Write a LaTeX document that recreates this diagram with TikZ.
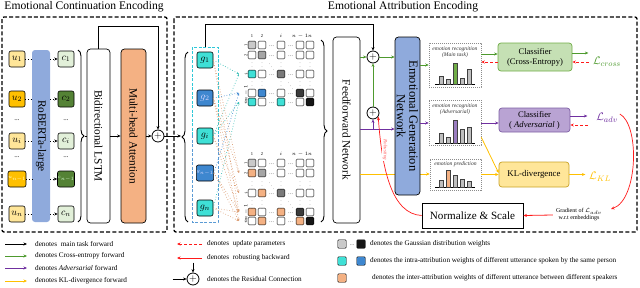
\documentclass[tikz,border=0pt]{standalone}
\usepackage{fontspec}
\setmainfont{Liberation Serif}
\usetikzlibrary{arrows.meta,decorations.pathreplacing,calc}
\definecolor{uL}{HTML}{FFE699}
\definecolor{uD}{HTML}{FFC000}
\definecolor{cL}{HTML}{E2F0D9}
\definecolor{cD}{HTML}{548235}
\definecolor{robB}{HTML}{8FAADC}
\definecolor{mhaO}{HTML}{F4B183}
\definecolor{gC}{HTML}{3FE0D6}
\definecolor{gB}{HTML}{3E87CF}
\definecolor{dC}{HTML}{2FC8D8}
\definecolor{dB}{HTML}{5B9BD5}
\definecolor{grn}{HTML}{4E9A2E}
\definecolor{pur}{HTML}{7030A0}
\definecolor{yel}{HTML}{FFC000}
\definecolor{ceF}{HTML}{C5E0B4}
\definecolor{ceD}{HTML}{70AD47}
\definecolor{advF}{HTML}{B9A3D3}
\definecolor{advD}{HTML}{7E5FA5}
\definecolor{klF}{HTML}{FFE699}
\definecolor{klD}{HTML}{C9A227}
\definecolor{wA}{HTML}{C9C9C9}
\definecolor{wB}{HTML}{A5A5A5}
\definecolor{wC}{HTML}{7A7A7A}
\definecolor{wD}{HTML}{3B3B3B}
\definecolor{wE}{HTML}{161616}
\definecolor{barG}{HTML}{BFBFBF}
\definecolor{advBar}{HTML}{9A7DC0}
\definecolor{redA}{HTML}{FF1A1A}

\newcommand{\matrow}[7]{%
  \node[cell,fill=#3] (#1-1) at (252,#2) {};
  \node[cell,fill=#4] (#1-2) at (262,#2) {};
  \node[cell,fill=#5] (#1-3) at (281,#2) {};
  \node[cell,fill=#6] (#1-4) at (300,#2) {};
  \node[cell,fill=#7] (#1-5) at (310,#2) {};
  \node[hdots] (#1-d1) at (271.5,#2) {\ldots};
  \node[hdots] (#1-d2) at (290.5,#2) {\ldots};
}
\newcommand{\matlab}[7]{%
  \node[lab] (#1-h1) at (252,#2) {1};
  \node[lab] (#1-h2) at (262,#2) {2};
  \node[lab] (#1-h3) at (281,#2) {$i$};
  \node[lab] (#1-h4) at (300,#2) {$n-1$};
  \node[lab] (#1-h5) at (310,#2) {$n$};
  \node[lab,rotate=90] (#1-v1) at (246,#3) {1};
  \node[lab,rotate=90] (#1-v2) at (246,#4) {2};
  \node[lab,rotate=90] (#1-v3) at (246,#5) {$i$};
  \node[lab,rotate=90] (#1-v4) at (246,#6) {$n-1$};
  \node[lab,rotate=90] (#1-v5) at (246,#7) {$n$};
}
\newcommand{\matvdots}[3]{%
  \foreach \mx in {252,262,281,300,310}{
    \node[vd] at (\mx,#2) {$\vdots$};
    \node[vd] at (\mx,#3) {$\vdots$};
  }
  \node[vd] (#1-dd1) at (271.5,#2) {$\ddots$};
  \node[vd] (#1-dd2) at (290.5,#3) {$\ddots$};
}

\begin{document}
\begin{tikzpicture}[x=1pt,y=-1pt,
  >={Stealth[length=3.5pt,width=3pt]},
  ln/.style={line width=0.8pt},
  ubox/.style={draw,line width=0.6pt,rounded corners=2pt,minimum width=16pt,minimum height=16pt,inner sep=0pt,font=\fontsize{10}{10}\selectfont},
  vbox/.style={draw,line width=0.7pt,rounded corners=3.5pt,inner sep=0pt},
  cell/.style={draw,line width=0.45pt,rounded corners=1pt,minimum size=7.6pt,inner sep=0pt},
  hdots/.style={font=\fontsize{5}{5}\selectfont,inner sep=0pt,yshift=-1.5pt},
  vd/.style={font=\fontsize{4}{4}\selectfont,inner sep=0pt},
  lab/.style={font=\fontsize{4.5}{4.5}\selectfont,inner sep=0pt},
  plusc/.style={draw,fill=white,circle,line width=0.8pt,minimum size=12pt,inner sep=0pt,font=\fontsize{10}{10}\selectfont},
  dbox/.style={line width=1.3pt,dash pattern=on 4pt off 2.2pt,rounded corners=2pt},
  gline/.style={dotted,line width=0.7pt,-{Stealth[length=2.5pt,width=2pt]}},
  ebox/.style={draw=black!45,line width=0.5pt,dash pattern=on 1.2pt off 0.8pt,inner sep=0pt},
  etext/.style={font=\fontsize{5.6}{6.4}\selectfont\itshape,inner sep=0pt,align=center,text=black!80},
  bar/.style={draw=black!75,line width=0.4pt,fill=barG},
  cls/.style={draw,line width=0.7pt,rounded corners=3pt,align=center,inner sep=0pt,font=\fontsize{8.6}{10}\selectfont},
  leg/.style={anchor=west,inner sep=0pt,font=\fontsize{7.2}{8}\selectfont},
  vlab/.style={rotate=-90,font=\fontsize{11.3}{12}\selectfont},
  rdash/.style={redA,line width=0.8pt,dash pattern=on 3pt off 2pt,->},
  brc/.style={decorate,decoration={brace,amplitude=6pt},line width=0.9pt},
  lossl/.style={font=\fontsize{11}{11}\selectfont,inner sep=0pt},
]
\useasboundingbox (0,0) rectangle (640,287);

% titles and frames
\node[font=\fontsize{11.6}{12}\selectfont,inner sep=0pt] (t1) at (84,6.5) {Emotional Continuation Encoding};
\node[font=\fontsize{11.6}{12}\selectfont,inner sep=0pt] (t2) at (403,6.5) {Emotional Attribution Encoding};
\draw[dbox] (2,17) rectangle (167,232);
\draw[dbox] (174,17) rectangle (637,232);

% ---------- left part ----------
\node[fill=robB,rounded corners=3pt,minimum width=18pt,minimum height=172pt,inner sep=0pt,
  label={[vlab]center:RoBERTa-large}] (rob) at (41,136) {};
\node[ubox,fill=uL] (u1) at (17,59) {$u_1$};
\node[ubox,fill=uD] (u2) at (17,99) {$u_2$};
\node[ubox,fill=uL] (ui) at (17,141) {$u_i$};
\node[ubox,fill=uD,font=\fontsize{5.5}{6}\selectfont,text=white!85!yellow] (um) at (17,179) {$u_{n-1}$};
\node[ubox,fill=uL] (un) at (17,214) {$u_n$};
\node[font=\fontsize{7}{7}\selectfont] (ud1) at (17,120) {...};
\node[font=\fontsize{7}{7}\selectfont] (ud2) at (17,157) {...};
\node[ubox,fill=cL] (c1) at (66,59) {$c_1$};
\node[ubox,fill=cD] (c2) at (66,99) {$c_2$};
\node[ubox,fill=cL] (ci) at (66,141) {$c_i$};
\node[ubox,fill=cD,font=\fontsize{5.5}{6}\selectfont,text=white!85!green] (cm) at (66,179) {$c_{n-1}$};
\node[ubox,fill=cL] (cn) at (66,214) {$c_n$};
\node[font=\fontsize{7}{7}\selectfont] (cd1) at (66,120) {...};
\node[font=\fontsize{7}{7}\selectfont] (cd2) at (66,157) {...};
\foreach \a in {1,2,i,m,n}{
  \draw[dotted,line width=0.7pt] (u\a.east) -- (rob.west |- u\a);
  \draw[dotted,line width=0.7pt,->] (rob.east |- c\a) -- (c\a.west);
}
\draw[brc] (78,50) -- (78,222);
\node[vbox,minimum width=23pt,minimum height=174pt,label={[vlab]center:Bidirectional LSTM}] (lstm) at (98.5,136) {};
\node[vbox,fill=mhaO,minimum width=25pt,minimum height=174pt,label={[vlab]center:Multi-head Attention}] (mha) at (133.5,136) {};
\node[plusc] (pl0) at (158,136) {$+$};
\coordinate (b1) at (85,136);
\draw[ln] (b1) -- (lstm.west);
\draw[ln,->] (lstm.east) -- (mha.west);
\draw[ln,->] (mha.east) -- (pl0.west);
\draw[ln,->] (lstm.north) -- ++(0,-22) -| (pl0.north);
\coordinate (b2) at (181,136);
\draw[ln,->] (pl0.east) -- (b2);

% ---------- attribution part ----------
\draw[brc] (188,222) -- (188,52);
\node[minimum width=26pt,minimum height=175pt,inner sep=0pt] (grect) at (205,134.5) {};
\draw[dC,line width=1pt,dash pattern=on 3pt off 1.5pt] (192,135) -- (192,47) -- (218,47) -- (218,135);
\draw[dB,line width=1pt,dash pattern=on 3pt off 1.5pt] (192,135) -- (192,222) -- (218,222) -- (218,135);
\node[ubox,fill=gC] (g1) at (205,60) {$g_1$};
\node[ubox,fill=gB,text=white!85!blue] (g2) at (205,98) {$g_2$};
\node[ubox,fill=gC] (gi) at (205,136) {$g_i$};
\node[ubox,fill=gB,font=\fontsize{5.5}{6}\selectfont,text=white!85!blue] (gm) at (205,173) {$g_{n-1}$};
\node[ubox,fill=gC] (gn) at (205,208) {$g_n$};

% matrices
\matlab{T}{36}{45}{55}{74}{93}{102}
\matrow{T1}{45}{wA}{white}{white}{white}{white}
\matrow{T2}{55}{white}{wB}{white}{white}{white}
\matrow{Ti}{74}{gC}{white}{wC}{white}{white}
\matrow{Tm}{93}{white}{gB}{white}{wD}{white}
\matrow{Tn}{102}{gC}{white}{gC}{white}{wE}
\matvdots{T}{64.5}{83.5}
\matlab{B}{154}{163}{173}{193}{212}{221}
\matrow{B1}{163}{wA}{white}{white}{white}{white}
\matrow{B2}{173}{mhaO}{wB}{white}{white}{white}
\matrow{Bi}{193}{white}{mhaO}{wC}{white}{white}
\matrow{Bm}{212}{mhaO}{white}{mhaO}{wD}{white}
\matrow{Bn}{221}{white}{mhaO}{white}{mhaO}{wE}
\matvdots{B}{183}{202.5}

% attribution links
\foreach \s/\t in {g1/Ti,gi/Ti,gi/Tn,gn/Tn}
  \draw[gline,gC!85!black] (\s.east) -- ($(\t-1.west)+(-9,0)$);
\foreach \s/\t in {g2/Tm,gm/Tm}
  \draw[gline,gB] (\s.east) -- ($(\t-1.west)+(-9,0)$);
\foreach \s/\t in {g1/B2,g2/B2,g2/Bi,g1/Bm,gi/Bm,gi/Bi,g2/Bn,gm/Bn,gm/Bm,gn/Bn,gn/Bm}
  \draw[gline,mhaO!90!black] (\s.east) -- ($(\t-1.west)+(-9,0)$);

\draw[brc] (321,40) -- (321,222);
\node[vbox,minimum width=27pt,minimum height=186pt,label={[vlab]center:Feedforward Network}] (ffn) at (346.5,130) {};

\node[plusc] (pl1) at (373,57) {$+$};
\node[plusc] (pl2) at (373,113) {$+$};
\coordinate (py) at (0,129);
\coordinate (yy) at (0,174);
\draw[ln,->] (grect.north) -- ++(0,-22) -| (pl1.north);

% yellow line behind the generation network
\node[ebox,minimum width=51pt,minimum height=31pt] (pbox) at (455.5,174.5) {};
\draw[ln,yel,->] (ffn.east |- yy) -- (pbox.west |- yy);
\node[vbox,fill=robB,minimum width=25pt,minimum height=158pt,
  label={[rotate=-90,align=center,font=\fontsize{12.5}{12.5}\selectfont]center:Emotional Generation\\Network}] (egn) at (407.5,116) {};

\draw[ln,grn,->] (ffn.east |- pl1) -- (pl1.west);
\draw[ln,grn,->] (pl1.east) -- (egn.west |- pl1);
\draw[ln,grn,->] (pl2.north) -- (pl1.south);
\draw[ln,pur,->] (ffn.east |- py) -- (egn.west |- py);
\draw[ln,pur,->] (pl2 |- py) -- (pl2.south);

% emotion boxes
\node[ebox,minimum width=52pt,minimum height=44pt] (mbox) at (455,65) {};
\node[etext] (mt) at (455,52) {emotion recognition\\(Main task)};
\node[ebox,minimum width=52pt,minimum height=45pt] (abox) at (455,122.5) {};
\node[etext] (at) at (455,109.5) {emotion recognition\\(Adversarial)};
\node[etext] (pt) at (455.5,164) {emotion prediction};
\draw[line width=0.6pt] (435,84) -- (475,84);
\foreach \bx/\bt/\bc in {441/76/barG,448/79/barG,455/63/ceD,462/78/barG,469/69/barG}
  \draw[bar,fill=\bc] (\bx-2.2,84) rectangle (\bx+2.2,\bt);
\draw[line width=0.6pt] (435,143) -- (475,143);
\foreach \bx/\bt/\bc in {441/133/barG,448/137/barG,455/120/advBar,462/129/barG,469/127/barG}
  \draw[bar,fill=\bc] (\bx-2.2,143) rectangle (\bx+2.2,\bt);
\draw[line width=0.6pt] (435,187) -- (475,187);
\foreach \bx/\bt/\bc in {441/180/barG,448/170/mhaO,455/175/barG,462/179/barG,469/181/barG}
  \draw[bar,fill=\bc] (\bx-2.2,187) rectangle (\bx+2.2,\bt);

\draw[ln,grn,->] (egn.east |- mbox.west) -- (mbox.west);
\draw[ln,pur,->] (egn.east |- 0,123) -- (abox.west |- 0,123);

% classifiers
\node[cls,fill=ceF,draw=ceD,minimum width=74pt,minimum height=28pt] (ce) at (535,57) {Classifier\\(Cross-Entropy)};
\node[cls,fill=advF,draw=advD,minimum width=71pt,minimum height=24pt] (adv) at (534.5,120) {Classifier\\( \textit{Adversarial} )};
\node[cls,fill=klF,draw=klD,minimum width=70pt,minimum height=25pt,font=\fontsize{8.8}{10}\selectfont] (kl) at (534,174.5) {KL-divergence};
\node[draw,line width=0.8pt,minimum width=101pt,minimum height=25pt,inner sep=0pt,font=\fontsize{11.1}{12}\selectfont] (norm) at (472.5,215.5) {Normalize \& Scale};

\node[lossl,text=grn] (lce) at (607,62) {$\mathcal{L}_{cross}$};
\node[lossl,text=pur] (ladv) at (607,118) {$\mathcal{L}_{adv}$};
\node[lossl,text=yel] (lkl) at (600,177) {$\mathcal{L}_{KL}$};

\draw[ln,grn,->] (mbox.east |- 0,54) -- (ce.west |- 0,54);
\draw[rdash] (ce.west |- 0,62) -- (mbox.east |- 0,62);
\draw[ln,grn,->] (ce.east |- 0,53) -- ++(16,0);
\draw[rdash] ($(lce.west)+(-4,0)$) -- (ce.east |- lce);
\draw[ln,pur,->] (abox.east |- 0,123) -- (adv.west |- 0,123);
\draw[ln,pur,->] (adv.east |- 0,116) -- ++(17,0);
\draw[rdash] (588,125) -- (adv.east |- 0,125);
\draw[ln,yel,->] ($(abox.south east)+(0,-8)$) -- ($(kl.west)+(0,-1.5)$);
\draw[ln,yel,->] (pbox.east |- kl.west) -- (kl.west);
\draw[ln,yel,->] (kl.east) -- ++(16,0);

\node[font=\fontsize{6}{7}\selectfont,align=center,inner sep=0pt] (grad) at (579,215) {Gradient of $\mathcal{L}_{adv}$\\w.r.t embeddings};
\coordinate (gtip) at (611,209);
\draw[redA,line width=0.7pt,->] ($(ladv.east)+(2,-4)$) .. controls (640,125) and (638,200) .. (gtip);
\draw[redA,line width=0.8pt,->] ($(grad.west)+(-3,0)$) -- (norm.east);
\draw[redA,line width=0.7pt,->] (norm.west) .. controls (392,214) and (382,170) .. (pl2.-35);
\node[rotate=-90,text=redA!70,fill=white,inner sep=0.5pt,font=\fontsize{5}{5}\selectfont\itshape] (robl) at (385,150) {Robusting};

% ---------- legend ----------
\node[leg] (lg1) at (35,244) {denotes \ main task forward};
\node[leg] (lg2) at (35,256) {denotes Cross-entropy forward};
\node[leg] (lg3) at (35,268) {denotes \textit{Adversarial} forward};
\node[leg] (lg4) at (35,281) {denotes KL-divergence forward};
\draw[ln,->] ($(lg1.west)+(-30,0)$) -- ($(lg1.west)+(-8,0)$);
\draw[ln,grn,->] ($(lg2.west)+(-30,0)$) -- ($(lg2.west)+(-8,0)$);
\draw[ln,pur,->] ($(lg3.west)+(-30,0)$) -- ($(lg3.west)+(-8,0)$);
\draw[ln,yel,->] ($(lg4.west)+(-30,0)$) -- ($(lg4.west)+(-8,0)$);

\node[leg] (lg5) at (207,244) {denotes \ update parameters};
\node[leg] (lg6) at (207,258) {denotes \ robusting backward};
\node[leg] (lg7) at (207,279) {denotes the Residual Connection};
\draw[rdash] ($(lg5.west)+(-5,0)$) -- ($(lg5.west)+(-30,0)$);
\draw[redA,line width=0.8pt,->] ($(lg6.west)+(-5,0)$) -- ($(lg6.west)+(-30,0)$);
\node[plusc] (lpl) at (193,279) {$+$};
\draw[ln,->] ($(lpl.west)+(-14,0)$) -- (lpl.west);
\draw[ln,->] ($(lpl.north)+(0,-10)$) -- (lpl.north);

\node[cell,minimum size=8.5pt,fill=wA] (sq1) at (342,244) {};
\node[hdots] (sqd) at (352,244) {\ldots};
\node[cell,minimum size=8.5pt,fill=wE] (sq2) at (361,244) {};
\node[cell,minimum size=8.5pt,fill=gC] (sq3) at (342,261) {};
\node[cell,minimum size=8.5pt,fill=gB] (sq4) at (361,261) {};
\node[cell,minimum size=8.5pt,fill=mhaO] (sq5) at (342,278) {};
\node[leg] (lg8) at (370,244) {denotes the Gaussian distribution weights};
\node[leg] (lg9) at (370,261) {denotes the intra-attribution weights of different utterance spoken by the same person};
\node[leg] (lg10) at (372,278) {denotes the inter-attribution weights of different utterance between different speakers};
\end{tikzpicture}
\end{document}
